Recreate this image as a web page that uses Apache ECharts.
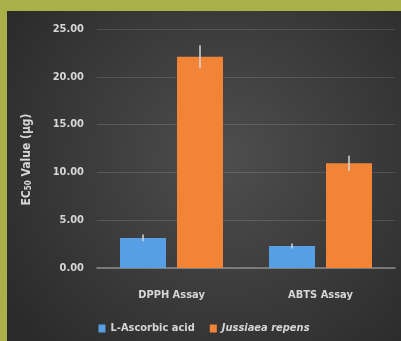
<!DOCTYPE html>
<html>
<head>
<meta charset="utf-8">
<script src="https://cdn.jsdelivr.net/npm/echarts@6/dist/echarts.min.js"></script>
<style>
  html, body { margin: 0; padding: 0; width: 401px; height: 341px; background: #a9b048; overflow: hidden; }
  #chart { position: absolute; left: 7px; top: 11px; width: 394px; height: 330px; }
</style>
</head>
<body>
<div id="chart"></div>
<script>
// Assays and EC50 results
const categories = ['DPPH Assay', 'ABTS Assay'];
const seriesNames = ['L-Ascorbic acid', 'Jussiaea repens'];
const ascorbicValues = [3.15, 2.3];
const ascorbicErrors = [0.35, 0.25];
const jussiaeaValues = [22.1, 10.95];
const jussiaeaErrors = [1.2, 0.8];
const yTicks = { min: 0, max: 25, interval: 5 };

const FONT = "'Liberation Sans Narrow', 'DejaVu Sans Condensed', 'Roboto', sans-serif";
const TEXT = '#d6d6d6';
const BAR_W = 46;
const BAR_GAP = 11;

const chart = echarts.init(document.getElementById('chart'), null, { renderer: 'canvas' });

// Vertical error whiskers, shifted onto the matching bar of the group
function errorSeries(values, errors, side) {
  return {
    type: 'custom',
    silent: true,
    z: 5,
    data: values.map((v, i) => [i, v - errors[i], v + errors[i]]),
    renderItem: function (params, api) {
      const lo = api.coord([api.value(0), api.value(1)]);
      const hi = api.coord([api.value(0), api.value(2)]);
      const dx = side * (BAR_W + BAR_GAP) / 2;
      return {
        type: 'line',
        shape: { x1: lo[0] + dx, y1: lo[1], x2: hi[0] + dx, y2: hi[1] },
        style: { stroke: 'rgba(215,215,215,0.75)', lineWidth: 2 }
      };
    }
  };
}

chart.setOption({
  backgroundColor: {
    type: 'radial', x: 0.55, y: 0.45, r: 0.8,
    colorStops: [{ offset: 0, color: '#4e4e4e' }, { offset: 1, color: '#2a2a2a' }]
  },
  animation: false,
  textStyle: { fontFamily: FONT },
  grid: { left: 90, right: 6, top: 18, bottom: 73 },
  legend: {
    data: seriesNames,
    bottom: 2,
    left: 'center',
    itemWidth: 7,
    itemHeight: 8,
    itemGap: 15,
    icon: 'rect',
    formatter: function (name) { return name === 'Jussiaea repens' ? '{i|' + name + '}' : name; },
    textStyle: {
      color: TEXT, fontSize: 11, fontWeight: 'bold', fontFamily: FONT,
      rich: { i: { fontStyle: 'italic', fontWeight: 'bold', fontSize: 11, color: TEXT, fontFamily: FONT } }
    }
  },
  xAxis: {
    type: 'category',
    data: categories,
    axisLine: { lineStyle: { color: '#8c8c8c', width: 1.5 } },
    axisTick: { show: false },
    axisLabel: { color: TEXT, fontSize: 11, fontWeight: 'bold', margin: 22, fontFamily: FONT }
  },
  yAxis: {
    type: 'value',
    min: yTicks.min, max: yTicks.max, interval: yTicks.interval,
    name: 'EC{s|50} Value (µg)',
    nameLocation: 'middle',
    nameGap: 64,
    nameRotate: 90,
    nameTextStyle: {
      color: TEXT, fontSize: 12, fontWeight: 'bold', fontFamily: FONT,
      padding: [0, 22, 0, 0],
      rich: { s: { fontSize: 8, fontWeight: 'bold', color: TEXT, verticalAlign: 'bottom', padding: [5, 0, 0, 0], fontFamily: FONT } }
    },
    axisLine: { show: false },
    axisTick: { show: false },
    axisLabel: { color: TEXT, fontSize: 11, fontWeight: 'bold', margin: 13, fontFamily: FONT,
      formatter: v => v.toFixed(2) },
    splitLine: { lineStyle: { color: 'rgba(255,255,255,0.13)', width: 1 } }
  },
  series: [
    {
      name: seriesNames[0], type: 'bar', data: ascorbicValues,
      barWidth: BAR_W, barGap: (BAR_GAP / BAR_W * 100) + '%',
      itemStyle: { color: '#569fe4' }
    },
    {
      name: seriesNames[1], type: 'bar', data: jussiaeaValues,
      barWidth: BAR_W,
      itemStyle: { color: '#f28437' }
    },
    errorSeries(ascorbicValues, ascorbicErrors, -1),
    errorSeries(jussiaeaValues, jussiaeaErrors, 1)
  ]
});
</script>
</body>
</html>
